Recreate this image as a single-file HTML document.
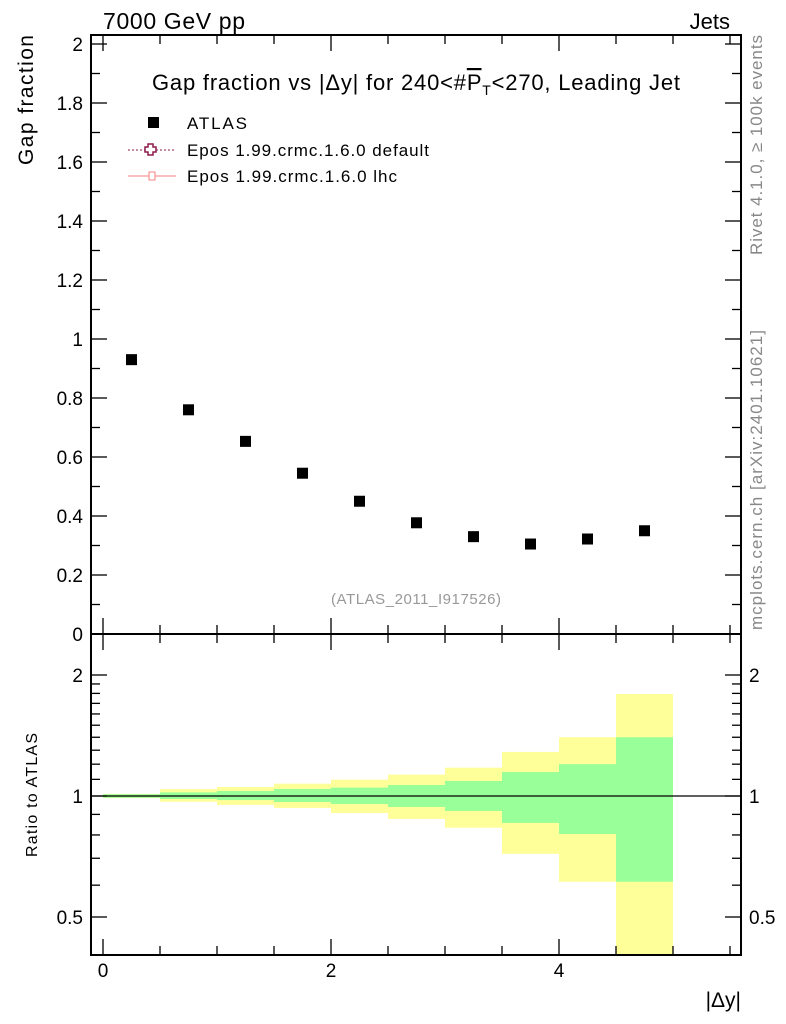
<!DOCTYPE html>
<html><head><meta charset="utf-8">
<style>
html,body{margin:0;padding:0;background:#fff;}
svg{display:block;font-family:"Liberation Sans",sans-serif;}
</style></head>
<body>
<svg id="c" width="786" height="1024" viewBox="0 0 786 1024">
<text x="103" y="29" font-size="23" textLength="142">7000 GeV pp</text>
<text x="730" y="29" font-size="22" text-anchor="end">Jets</text>
<text x="416" y="90" font-size="22" text-anchor="middle" textLength="528">Gap fraction vs |Δy| for 240&lt;#<tspan text-decoration="overline">P</tspan><tspan font-size="14" dy="5">T</tspan><tspan dy="-5">&lt;270, Leading Jet</tspan></text>
<text transform="translate(33,100) rotate(-90)" font-size="21" text-anchor="middle" textLength="130">Gap fraction</text>
<text transform="translate(37,795) rotate(-90)" font-size="16" text-anchor="middle" textLength="124">Ratio to ATLAS</text>
<text x="741" y="1007" font-size="21" text-anchor="end">|Δy|</text>
<text transform="translate(762,145) rotate(-90)" font-size="17" fill="#888" text-anchor="middle" textLength="220">Rivet 4.1.0, ≥ 100k events</text>
<text transform="translate(762,480) rotate(-90)" font-size="17" fill="#888" text-anchor="middle" textLength="300">mcplots.cern.ch [arXiv:2401.10621]</text>
<text x="416" y="604" font-size="15" fill="#999" text-anchor="middle" textLength="170">(ATLAS_2011_I917526)</text>
<g>
<rect x="148" y="117" width="11" height="11" fill="#000"/>
<text x="187" y="129" font-size="17" textLength="60">ATLAS</text>
<line x1="128" y1="150" x2="176" y2="150" stroke="#8b1a4a" stroke-dasharray="2,2"/>
<path d="M148 144h5v3h3v5h-3v3h-5v-3h-3v-5h3z" fill="#fff" stroke="#8b1a4a" stroke-width="1.5"/>
<text x="187" y="156" font-size="17" textLength="242">Epos 1.99.crmc.1.6.0 default</text>
<line x1="128" y1="176" x2="176" y2="176" stroke="#f08080"/>
<rect x="149" y="172" width="6" height="8" fill="#fff" stroke="#f08080"/>
<text x="187" y="182" font-size="17" textLength="210">Epos 1.99.crmc.1.6.0 lhc</text>
</g>
<g id="marks"></g>
<g id="axes"></g>
</svg>
<script>
const binEdges=[0,0.5,1,1.5,2,2.5,3,3.5,4,4.5,5];
const atlasValues=[0.93,0.76,0.653,0.545,0.45,0.377,0.33,0.305,0.322,0.35];
const statUp=[1.01,1.021,1.029,1.041,1.049,1.065,1.09,1.147,1.2,1.4];
const statDn=[0.99,0.983,0.977,0.966,0.955,0.939,0.918,0.857,0.804,0.612];
const totUp=[1.012,1.04,1.053,1.073,1.098,1.13,1.176,1.287,1.4,1.794];
const totDn=[0.988,0.968,0.95,0.934,0.907,0.877,0.834,0.718,0.612,0.3];
const xTicks=[0,2,4];
const yTicks=[0,0.2,0.4,0.6,0.8,1,1.2,1.4,1.6,1.8,2];
const yTickLabels=["0","0.2","0.4","0.6","0.8","1","1.2","1.4","1.6","1.8","2"];
const rTicks=[0.5,1,2];
const rTickLabels=["0.5","1","2"];

const NS="http://www.w3.org/2000/svg";
const L=91,R=741,T=35,M=634,B=955;
const X=v=>103+114*v;
const Y=v=>634-295*v;
const RY=v=>{const y=796-121*Math.log2(v);return Math.max(M,Math.min(B,y));};
function mk(p,tag,a){const e=document.createElementNS(NS,tag);for(const k in a)e.setAttribute(k,a[k]);p.appendChild(e);return e;}
const marks=document.getElementById('marks'),axes=document.getElementById('axes');

for(let i=0;i<atlasValues.length;i++){
  const x0=X(binEdges[i]),x1=X(binEdges[i+1]);
  let r=mk(marks,'rect',{x:x0,y:RY(totUp[i]),width:x1-x0,height:RY(totDn[i])-RY(totUp[i]),fill:'#ffff99'});
  
  
  r=mk(marks,'rect',{x:x0,y:RY(statUp[i]),width:x1-x0,height:RY(statDn[i])-RY(statUp[i]),fill:'#99ff99'});
  
  
  const xc=(x0+x1)/2;
  const p=mk(marks,'rect',{x:xc-5.5,y:Y(atlasValues[i])-5.5,width:11,height:11,fill:'#000'});
  
  
}
let ln=mk(marks,'line',{x1:L,x2:R,y1:RY(1),y2:RY(1),stroke:'#000','stroke-width':1.3});



let f=mk(axes,'rect',{x:L,y:T,width:R-L,height:M-T,fill:'none',stroke:'#000','stroke-width':2});


f=mk(axes,'rect',{x:L,y:M,width:R-L,height:B-M,fill:'none',stroke:'#000','stroke-width':2});



for(let v=0;v<=5.5;v+=0.5){
  const maj=Math.abs(v%2)<1e-6, len=maj?16:9, x=X(v);
  for(const [a,b] of [[T,T+len],[M,M-len],[M,M+len],[B,B-len]]) mk(axes,'line',{x1:x,x2:x,y1:a,y2:b,stroke:'#000','stroke-width':1.3});
}
xTicks.forEach(v=>{const t=mk(axes,'text',{x:X(v),y:977,'font-size':19,'text-anchor':'middle'});t.textContent=String(v);

});
for(let k=0;k<=20;k++){const v=k/10,y=Y(v);if(y<T-1)continue;const len=k%2===0?16:9;
  mk(axes,'line',{x1:L,x2:L+len,y1:y,y2:y,stroke:'#000','stroke-width':1.3});
  mk(axes,'line',{x1:R,x2:R-len,y1:y,y2:y,stroke:'#000','stroke-width':1.3});}
yTicks.forEach((v,i)=>{const t=mk(axes,'text',{x:83,y:Y(v)+7,'font-size':19,'text-anchor':'end'});t.textContent=yTickLabels[i];

});
[0.4,0.5,0.6,0.7,0.8,0.9,1,2].concat([1.1,1.2,1.3,1.4,1.5,1.6,1.7,1.8,1.9]).forEach(v=>{const y=RY(v);if(y<=M||y>=B)return;
  const len=(v===0.5||v===1||v===2)?16:9;
  mk(axes,'line',{x1:L,x2:L+len,y1:y,y2:y,stroke:'#000','stroke-width':1.3});
  mk(axes,'line',{x1:R,x2:R-len,y1:y,y2:y,stroke:'#000','stroke-width':1.3});});
rTicks.forEach((v,i)=>{let t=mk(axes,'text',{x:83,y:RY(v)+7,'font-size':19,'text-anchor':'end'});t.textContent=rTickLabels[i];


t=mk(axes,'text',{x:749,y:RY(v)+7,'font-size':19});t.textContent=rTickLabels[i];

});
</script>
</body></html>
